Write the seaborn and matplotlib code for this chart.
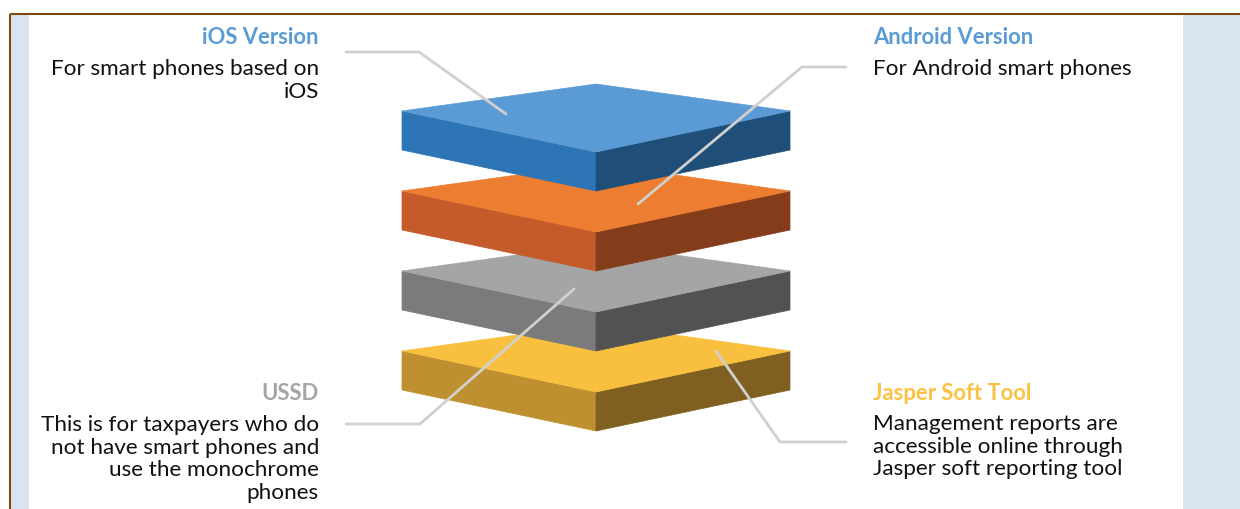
import matplotlib
matplotlib.use("Agg")
import matplotlib.pyplot as plt
from matplotlib.patches import Polygon, Rectangle
import seaborn as sns

# ---------------- data ----------------
layers = ["iOS Version", "Android Version", "USSD", "Jasper Soft Tool"]
descriptions = [
    ["For smart phones based on", "iOS"],
    ["For Android smart phones"],
    ["This is for taxpayers who do", "not have smart phones and",
     "use the monochrome", "phones"],
    ["Management reports are", "accessible online through",
     "Jasper soft reporting tool"],
]
top_colors = ["#5B9BD5", "#ED7D31", "#A5A5A5", "#F9C040"]
left_colors = ["#2E75B6", "#C55A2B", "#7B7B7B", "#BF9030"]
right_colors = ["#1F4E79", "#843C1A", "#525252", "#7F6020"]
title_colors = ["#5B9BD5", "#5B9BD5", "#A5A5A5", "#FBC244"]

# ---------------- style ----------------
sns.set_theme(style="white")
plt.rcParams["font.family"] = ["Lato", "DejaVu Sans"]

W, H = 1240, 510
fig = plt.figure(figsize=(W / 100, H / 100), dpi=100)
ax = fig.add_axes([0, 0, 1, 1])
ax.set_xlim(0, W)
ax.set_ylim(H, 0)
ax.axis("off")

# frame / side panels
panel = "#DAE3F0"
ax.add_patch(Rectangle((10, 15), 19, H - 15, color=panel, lw=0, zorder=0))
ax.add_patch(Rectangle((1183, 15), W - 1183, H - 15, color=panel, lw=0, zorder=0))
brown = "#7A4A10"
ax.plot([9.5, W], [14.5, 14.5], color=brown, lw=1.5, zorder=1, solid_capstyle="butt")
ax.plot([9.5, 9.5], [14.5, H], color=brown, lw=1.5, zorder=1, solid_capstyle="butt")

# ---------------- slabs ----------------
xl, xc, xr = 402, 596, 790
y_first, spacing = 112, 80
back_rise, front_drop, thick = 27, 41, 39

for i in reversed(range(len(layers))):
    y0 = y_first + spacing * i
    top = [(xl, y0), (xc, y0 - back_rise), (xr, y0), (xc, y0 + front_drop)]
    left = [(xl, y0), (xc, y0 + front_drop), (xc, y0 + front_drop + thick), (xl, y0 + thick)]
    right = [(xc, y0 + front_drop), (xr, y0), (xr, y0 + thick), (xc, y0 + front_drop + thick)]
    z = 2 + (len(layers) - i)
    ax.add_patch(Polygon(left, closed=True, facecolor=left_colors[i], edgecolor=left_colors[i], lw=0.5, zorder=z))
    ax.add_patch(Polygon(right, closed=True, facecolor=right_colors[i], edgecolor=right_colors[i], lw=0.5, zorder=z))
    ax.add_patch(Polygon(top, closed=True, facecolor=top_colors[i], edgecolor=top_colors[i], lw=0.5, zorder=z))

# ---------------- leader lines ----------------
leaders = [
    ([346, 419, 506], [53, 53, 115]),
    ([846, 802, 638], [68, 68, 205]),
    ([346, 420, 574], [425, 425, 290]),
    ([846, 780, 716], [443, 443, 352]),
]
for xs, ys in leaders:
    sns.lineplot(x=xs, y=ys, sort=False, estimator=None, color="#D0D0D0",
                 lw=2, ax=ax, zorder=20)
ax.set_xlim(0, W)
ax.set_ylim(H, 0)
ax.axis("off")

# ---------------- labels ----------------
sides = ["left", "right", "left", "right"]
title_base = [44, 44, 400, 400]
desc_base = [75, 75, 431, 430]
line_gap = 22.7
for i, name in enumerate(layers):
    if sides[i] == "left":
        x, ha = 319, "right"
    else:
        x, ha = 873, "left"
    ax.text(x, title_base[i], name, ha=ha, va="baseline", fontsize=15.8,
            fontweight="bold", color=title_colors[i], zorder=30)
    for k, line in enumerate(descriptions[i]):
        ax.text(x, desc_base[i] + k * line_gap, line, ha=ha, va="baseline",
                fontsize=16.2, color="#111111", zorder=30)

fig.savefig("out.png", dpi=100, facecolor="white")
